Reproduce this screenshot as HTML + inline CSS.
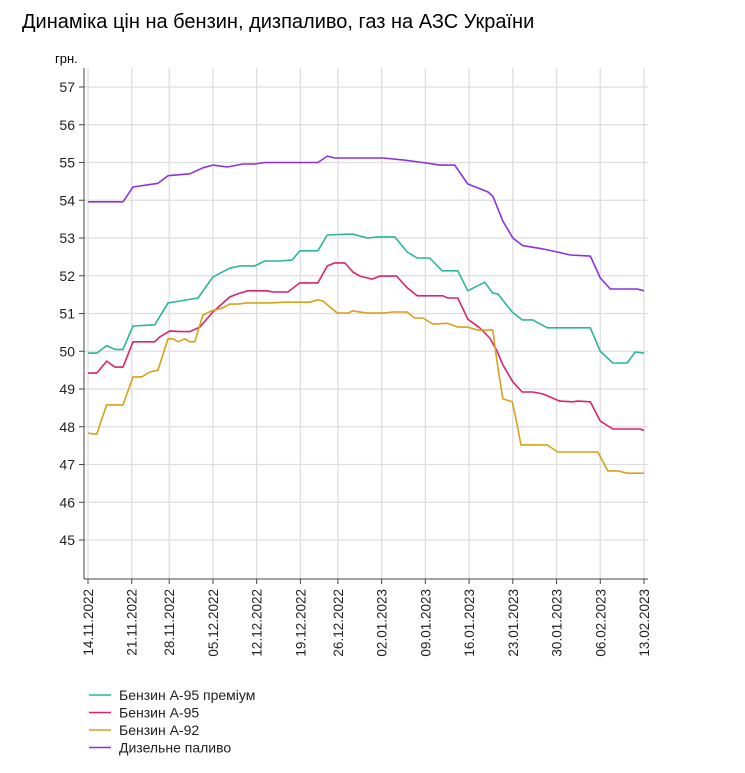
<!DOCTYPE html>
<html><head><meta charset="utf-8">
<style>
html,body{margin:0;padding:0;background:#fff;}
body{width:745px;height:768px;overflow:hidden;font-family:"Liberation Sans",Arial,sans-serif;}
svg text{font-family:"Liberation Sans",Arial,sans-serif;}
</style></head>
<body>
<svg id="chart" width="745" height="768" viewBox="0 0 745 768" xmlns="http://www.w3.org/2000/svg">
<text x="22" y="28" font-size="20" fill="#000">Динаміка цін на бензин, дизпаливо, газ на АЗС України</text>
<text x="55" y="63" font-size="13" fill="#000">грн.</text>
<g id="grid"></g>
<g id="axes"></g>
<g id="series"></g>
<g id="legend"></g>
</svg>
<script>
const yTicks = [45,46,47,48,49,50,51,52,53,54,55,56,57];
const xTickLabels = ["14.11.2022","21.11.2022","28.11.2022","05.12.2022","12.12.2022","19.12.2022","26.12.2022","02.01.2023","09.01.2023","16.01.2023","23.01.2023","30.01.2023","06.02.2023","13.02.2023"];
const xTickIdx = [0,7,13,20,27,34,40,47,54,61,68,75,82,89];
const seriesNames = ["Бензин А-95 преміум","Бензин А-95","Бензин А-92","Дизельне паливо"];
const seriesColors = ["#2cb59b","#d8246f","#d6a21c","#8a32e0"];

const premIdx = [0,1.4,3.0,4.3,5.6,7.2,10.7,12.8,14.7,17.6,20.0,22.7,24.3,26.7,28.3,30.7,32.7,33.9,36.8,38.3,41.5,42.4,44.7,46.4,49.1,51.1,52.7,54.7,56.7,59.2,60.8,63.5,64.8,65.6,67.9,69.5,71.2,73.5,80.4,82.0,84.0,86.3,87.6,89];
const premVal = [49.95,49.95,50.15,50.05,50.05,50.67,50.7,51.28,51.33,51.41,51.97,52.2,52.26,52.26,52.39,52.39,52.42,52.66,52.66,53.08,53.1,53.1,53.0,53.03,53.03,52.63,52.47,52.47,52.13,52.13,51.6,51.83,51.54,51.52,51.04,50.83,50.83,50.62,50.62,50.0,49.69,49.69,49.98,49.95];

const a95Idx = [0,1.4,3.0,4.3,5.6,7.2,10.7,11.5,13.1,14.7,16.3,17.9,20.0,22.7,24.3,25.6,28.7,29.5,32.0,33.9,36.8,38.3,39.5,41.1,42.4,43.5,45.5,46.7,49.4,51.1,52.7,56.8,57.6,59.2,60.8,62.7,64.3,65.4,66.4,68.0,69.5,71.2,72.8,75.5,77.6,78.4,80.4,82.0,84.0,88.4,89];
const a95Val = [49.42,49.42,49.74,49.58,49.58,50.25,50.25,50.38,50.54,50.52,50.52,50.64,51.04,51.44,51.54,51.6,51.6,51.57,51.57,51.81,51.81,52.26,52.34,52.34,52.1,51.99,51.91,51.99,51.99,51.68,51.47,51.47,51.41,51.41,50.85,50.62,50.35,50.03,49.64,49.19,48.92,48.92,48.87,48.68,48.66,48.68,48.66,48.15,47.94,47.94,47.9];

const a92Idx = [0,1.4,2.2,3.0,5.6,7.2,8.6,9.9,11.2,12.8,13.6,14.4,15.5,16.3,17.1,18.4,19.8,21.6,22.7,24.0,25.4,29.1,31.5,35.5,36.8,37.6,39.9,41.6,42.4,44.7,47.5,48.7,51.1,52.3,53.6,55.2,57.5,59.2,60.8,62.4,64.8,65.4,66.4,67.9,68.7,69.3,73.5,75.2,81.6,83.2,84.8,86.3,89];
const a92Val = [47.83,47.8,48.2,48.58,48.58,49.32,49.32,49.45,49.5,50.33,50.33,50.25,50.33,50.25,50.25,50.96,51.07,51.15,51.25,51.25,51.28,51.28,51.3,51.3,51.36,51.33,51.01,51.01,51.07,51.01,51.01,51.04,51.04,50.88,50.88,50.72,50.74,50.64,50.64,50.56,50.56,49.8,48.74,48.66,48.05,47.52,47.52,47.33,47.33,46.83,46.83,46.77,46.77];

const dieselIdx = [0,5.6,7.2,11.2,12.8,16.3,18.4,20,22.3,24.8,26.7,28.3,36.8,38.3,39.5,47.2,50.4,53.6,56.3,58.7,60.8,64,64.8,66.4,68,69.6,72.8,75.1,77.2,80.4,82,83.6,87.9,89];
const dieselVal = [53.96,53.96,54.35,54.45,54.65,54.7,54.86,54.93,54.88,54.96,54.96,55.0,55.0,55.17,55.12,55.12,55.07,55.0,54.93,54.93,54.43,54.22,54.11,53.45,53.0,52.8,52.71,52.63,52.55,52.52,51.94,51.65,51.65,51.6];

const NS = "http://www.w3.org/2000/svg";
const X0 = 88, X1 = 644, IDXMAX = 89;
const Y0 = 540, Y1 = 87, VMIN = 45, VMAX = 57;
function xs(i){ return X0 + (X1 - X0) * i / IDXMAX; }
function ys(v){ return Y0 - (Y0 - Y1) * (v - VMIN) / (VMAX - VMIN); }
function mk(tag, attrs, parent){ const e = document.createElementNS(NS, tag); for (const k in attrs) e.setAttribute(k, attrs[k]); parent.appendChild(e); return e; }

const grid = document.getElementById('grid');
const axes = document.getElementById('axes');
const seriesG = document.getElementById('series');
const legend = document.getElementById('legend');

yTicks.forEach(v => {
  const y = ys(v);
  const gl = mk('line', {x1: 84, x2: 648, y1: y, y2: y, stroke: '#dedede', 'stroke-width': 1.3}, grid);
  
  
  const tk = mk('line', {x1: 79, x2: 84, y1: y, y2: y, stroke: '#444', 'stroke-width': 1}, axes);
  
  
  const t = mk('text', {x: 75, y: y + 5, 'text-anchor': 'end', 'font-size': 14, fill: '#222'}, axes);
  t.textContent = v;
  
  
});

xTickIdx.forEach((ix, k) => {
  const x = xs(ix);
  const gl = mk('line', {x1: x, x2: x, y1: 68, y2: 579, stroke: '#dedede', 'stroke-width': 1.3}, grid);
  
  
  const tk = mk('line', {x1: x, x2: x, y1: 579, y2: 584, stroke: '#444', 'stroke-width': 1}, axes);
  
  
  const t = mk('text', {x: 0, y: 0, 'text-anchor': 'end', 'font-size': 13.5, fill: '#222', transform: `translate(${x + 5},${589}) rotate(-90)`}, axes);
  t.textContent = xTickLabels[k];
  
  
});

const ya = mk('line', {x1: 84, x2: 84, y1: 68, y2: 579, stroke: '#444', 'stroke-width': 1}, axes);


const xa = mk('line', {x1: 84, x2: 648, y1: 579, y2: 579, stroke: '#444', 'stroke-width': 1}, axes);



const allIdx = [premIdx, a95Idx, a92Idx, dieselIdx];
const allVal = [premVal, a95Val, a92Val, dieselVal];
const lineNames = ['line-a95-premium', 'line-a95', 'line-a92', 'line-diesel'];
allIdx.forEach((idx, s) => {
  const pts = idx.map((ix, j) => xs(ix).toFixed(1) + ',' + ys(allVal[s][j]).toFixed(1)).join(' ');
  const pl = mk('polyline', {points: pts, fill: 'none', stroke: seriesColors[s], 'stroke-width': 1.6, 'stroke-linejoin': 'round'}, seriesG);
  
  
});

seriesNames.forEach((n, s) => {
  const y = 695 + s * 17.5;
  const ln = mk('line', {x1: 89, x2: 111, y1: y, y2: y, stroke: seriesColors[s], 'stroke-width': 1.6}, legend);
  
  
  const t = mk('text', {x: 119, y: y + 5, 'font-size': 14, fill: '#222'}, legend);
  t.textContent = n;
  
  
});
</script>
</body></html>
